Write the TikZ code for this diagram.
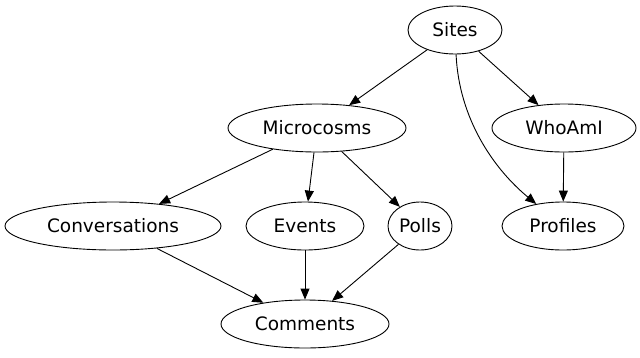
\documentclass[tikz,border=0pt]{standalone}
\usepackage{fontspec}
\setmainfont{DejaVu Sans}
\usetikzlibrary{shapes.geometric,arrows.meta}
\begin{document}
\begin{tikzpicture}[x=1pt,y=-1pt,line width=0.9pt]

    \tikzset{entity/.style={%
      draw,%
      ellipse,%
      minimum height=48pt,%
      inner sep=0pt,%
      font=\fontsize{18.5}{22}\selectfont}%
    };
    \tikzset{link/.style={-{Triangle[length=11pt,width=9pt]}}};

    \useasboundingbox (0,0) rectangle (640,357);

    %%%%%%%%%%
    % models %
    %%%%%%%%%%
    \node[entity, minimum width=94pt] (sites) at (455,30) {Sites};

    \node[entity, minimum width=178pt] (micro) at (317,128) {Microcosms};
    \node[entity, minimum width=144pt] (whoami) at (564,128) {WhoAmI};

    \node[entity, minimum width=216pt] (convs) at (113,226) {Conversations};
    \node[entity, minimum width=118pt] (events) at (305,226) {Events};
    \node[entity, minimum width=64pt] (polls) at (420,226) {Polls};
    \node[entity, minimum width=122pt] (profiles) at (563,226) {Profiles};

    \node[entity, minimum width=168pt] (comments) at (305,324) {Comments};

    \draw [link] (sites) -- (micro);
    \draw [link] (sites) -- (whoami);
    \draw [link] (sites) .. controls (459,120) and (495,170) .. (profiles);
    \draw [link] (whoami) -- (profiles);
    \draw [link] (micro) -- (convs);
    \draw [link] (micro) -- (events);
    \draw [link] (micro) -- (polls);
    \draw [link] (convs) -- (comments);
    \draw [link] (events) -- (comments);
    \draw [link] (polls) -- (comments);

  \end{tikzpicture}
\end{document}
